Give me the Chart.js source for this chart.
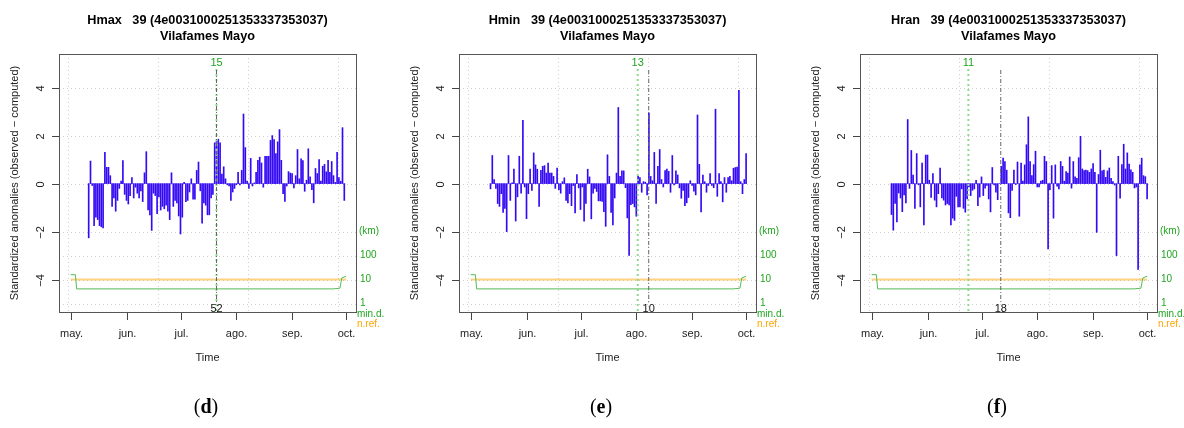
<!DOCTYPE html>
<html><head><meta charset="utf-8">
<script src="https://cdn.jsdelivr.net/npm/chart.js@4.4.1/dist/chart.umd.min.js"></script>
<style>
html,body{margin:0;padding:0;background:#fff;overflow:hidden;width:1184px;height:428px;}
canvas.p{position:absolute;top:0;}
.sub{position:absolute;top:395px;width:80px;height:28px;line-height:28px;text-align:center;font:20px "Liberation Serif","DejaVu Serif",serif;color:#000;}
</style></head>
<body>
<canvas class="p" id="c0" width="400" height="428" style="left:0px"></canvas>
<canvas class="p" id="c1" width="400" height="428" style="left:400px"></canvas>
<canvas class="p" id="c2" width="400" height="428" style="left:801px"></canvas>
<div class="sub" style="left:166px">(<b>d</b>)</div>
<div class="sub" style="left:561px">(<b>e</b>)</div>
<div class="sub" style="left:957px">(<b>f</b>)</div>
<script>
// ---- data ----
const monthLabels = ['may.', 'jun.', 'jul.', 'ago.', 'sep.', 'oct.'];
const monthDays = [0, 31, 61, 92, 123, 153];          // days since 1 May
const gridDays = [-1.7, 48.3, 98.3, 148.3];
const yTicks = [-4, -2, 0, 2, 4];
const yGrid = [-5, -4, -3, -2, 0, 2, 4];
const kmTicks = [1, 10, 100];

const hmaxStart = 10;
const hmaxValues = [
 -2.26, 0.94, -0.08, -1.75, -1.4, -1.5, -1.75, -1.8, -1.85, 1.3,
 0.68, 0.68, 0.33, -0.95, -0.6, -1.15, -0.7, -0.2, 0.1, 0.96,
 -0.45, -0.7, -0.85, -0.5, 0.25, -0.6, -0.15, -0.4, -0.6, -0.3,
 -0.75, 0.45, 1.33, -1.1, -1.3, -1.95, -0.4, -0.5, -1.25, -0.55,
 -1.1, -0.95, -1.05, -0.9, -1.15, -1.5, 0.45, -0.95, -0.7, -0.8,
 -1.35, -2.1, -1.4, 0.05, -0.75, -0.7, -0.35, 0.2, -0.65, -0.65,
 0.55, 0.9, -0.3, -1.65, -0.8, -0.9, -1.3, -1.3, -0.6, -0.45, 1.7,
 1.75, 1.85, 1.7, 0.4, 0.7, 0.2, -0.05, -0.1, -0.7, -0.35,
 -0.2, -0.05, 0.47, -0.05, 0.55, 2.9, 1.5, 0.1, -0.2, 1.05,
 -0.1, 0.03, 0.47, 0.97, 1.1, 0.86, -0.15, 1.14, 1.14, 1.14,
 1.8, 2.0, 1.83, 1.25, 1.74, 2.25, 0.97, -0.42, -0.74, -0.1,
 0.5, 0.44, 0.42, -0.18, 0.33, 1.42, 0.2, 1.03, 0.96, -0.32,
 0.14, 1.45, 0.28, -0.25, -0.8, 0.63, 0.42, 1.0, 0.1, 0.72,
 0.8, 0.49, 0.97, 0.47, 0.92, 0.33, 0.05, 1.3, 0.25, 0.1,
 2.33, -0.7
];

const hminStart = 11;
const hminValues = [
 -0.22, 1.17, 0.17, -0.2, -0.83, -0.95, -0.42, -1.2, -1.03, -2.0,
 1.17, -0.7, 0.03, 0.6, -1.56, -0.55, 1.14, -0.4, 2.64, -0.14,
 -1.46, -0.42, 0.6, -0.28, 1.28, 0.78, 0.6, -0.95, 0.55, 0.72,
 0.75, 0.44, 0.86, 0.44, 0.44, 0.3, -0.2, 0.65, -0.25, -0.4,
 0.08, 0.24, -0.7, -0.8, -0.42, -0.92, -0.08, -1.22, 0.38, -0.18,
 -1.08, -0.14, -1.57, -0.83, 0.6, 0.28, -1.47, -0.4, -0.2, -0.33,
 -0.72, -0.72, -0.74, -1.17, -1.78, 1.2, 0.3, -1.2, -1.72, -0.6,
 0.44, 3.17,
 0.3, 0.53, 0.53, -0.17, -1.43, -2.99, -0.88, -0.83, -0.97, -1.36, 0.3,
 0.25, -0.36, 0.08, 0.06, -0.47, 2.94, 0.3, 0.12, 1.3, -0.83,
 0.72, 1.42, 0.17, -0.14, 0.54, 0.6, 0.51, -0.36, 1.17, -0.06,
 0.53, 0.36, -0.18, -0.61, -0.28, -0.92, -0.8, -0.58, 0.12, -0.08,
 -0.32, -0.47, 2.86, 0.8, -1.18, 0.36, 0.08, -0.36, -0.08, 0.42,
 -0.08, -0.17, 3.1, -0.53, 0.42, 0.08, -0.76, 0.25, -0.36, 0.25,
 0.3, 0.12, 0.64, 0.67, 0.69, 3.89, 0.08, -0.42, 0.17, 1.25
];

const hranStart = 11;
const hranValues = [
 -1.29, -1.94, -0.83, -1.6, -0.39, -0.6, -1.17, -0.47, -0.8, 2.67,
 -0.2, 1.38, 0.36, -1.03, 1.25, -0.05, -0.97, 0.86, -1.72, 1.19,
 1.19, 0.14, -0.58, 0.42, -0.69, -0.97, -0.42, 0.65, -0.6, -0.69,
 -0.89, -0.83, -0.89, -1.72, -1.44, -1.53, -0.53, -0.97, -0.97, -0.22,
 -1.03, -1.19, -0.64, -0.14, -0.5, -0.28, -0.22, 0.14, -0.92, -0.56,
 0.28, -0.5, -0.19, -0.08, -0.64, -1.18, 0.67, -0.05, -0.36, -0.67,
 0.0, 0.72, 1.06, 0.92, 0.56, -1.22, -1.42, -0.28, 0.56, -0.04,
 0.9,
 -1.36, 0.86, 0.1, 0.78, 1.62, 2.78, 0.92, 0.33, 0.79, 1.35,
 -0.14, -0.14, 0.1, 0.14, 1.14, 0.92, -2.72, -0.25, 0.75, -1.44,
 0.78, -0.11, -0.22, 0.92, 0.72, 0.1, 0.5, 0.44, 1.11, -0.19,
 0.92, 0.28, 0.22, 1.08, 1.97, 0.61, 0.54, 0.56, 0.54, 0.47,
 0.61, 0.83, 0.47, -2.03, 0.38, 1.39, 0.53, 0.56, 0.26, 0.53,
 0.65, 0.22, 0.08, -0.06, -3.0, 1.14, -0.61, 0.79, 1.64, 0.61,
 1.28, 0.81, 0.57, 0.47, -0.18, -0.14, -3.58, 0.78, 1.06, 0.33,
 0.29, -0.64
];

// minimum distance to references (km) and number of references
const minDistDays = [0, 2.6, 3.3, 145.8, 149.6, 150.6, 153];
const minDistKm = [16, 16, 4.1, 4.1, 4.4, 11.7, 13.8];
const nRefDays = [0, 153];
const nRefCount = [10, 10];

const panelNames = ['Hmax', 'Hmin', 'Hran'];
const stationCode = '39 (4e0031000251353337353037)';
const stationName = 'Vilafames Mayo';
const greenDays = [81, 92.8, 53.7];
const greenLabels = ['15', '13', '11'];
const grayDays = [81, 98.9, 71.7];
const grayLabels = ['52', '10', '18'];

// ---- drawing ----
const kmToY = km => -5 + Math.log10(km);
const FONT = '"Liberation Sans", Arial, Helvetica, sans-serif';
const GREEN = '#1fa51f';
const ORANGE = '#ffa500';

function makeDecor(idx) {
  return {
    id: 'decor' + idx,
    beforeDatasetsDraw(chart) {
      const {ctx, chartArea: a, scales: {x, y}} = chart;
      ctx.save();
      ctx.strokeStyle = '#cfcfcf';
      ctx.lineWidth = 1;
      ctx.setLineDash([1, 3]);
      gridDays.forEach(d => {
        const px = Math.round(x.getPixelForValue(d)) + 0.5;
        ctx.beginPath(); ctx.moveTo(px, a.top); ctx.lineTo(px, a.bottom); ctx.stroke();
      });
      yGrid.forEach(v => {
        const py = Math.round(y.getPixelForValue(v)) + 0.5;
        ctx.beginPath(); ctx.moveTo(a.left, py); ctx.lineTo(a.right, py); ctx.stroke();
      });
      ctx.restore();
    },
    afterDatasetsDraw(chart) {
      const {ctx, chartArea: a, scales: {x, y}} = chart;
      ctx.save();
      // marker lines
      const gx = x.getPixelForValue(greenDays[idx]);
      ctx.strokeStyle = '#8fd88f'; ctx.lineWidth = 2; ctx.setLineDash([2, 3]);
      ctx.beginPath(); ctx.moveTo(gx, a.top + 15); ctx.lineTo(gx, a.bottom); ctx.stroke();
      const kx = x.getPixelForValue(grayDays[idx]);
      ctx.strokeStyle = '#666'; ctx.lineWidth = 1; ctx.setLineDash([4, 2, 1, 2]);
      ctx.beginPath(); ctx.moveTo(kx, a.top + 16); ctx.lineTo(kx, a.bottom - 10); ctx.stroke();
      ctx.setLineDash([]);
      ctx.font = '11px ' + FONT; ctx.textAlign = 'center'; ctx.textBaseline = 'middle';
      ctx.fillStyle = GREEN; ctx.fillText(greenLabels[idx], gx, a.top + 9);
      ctx.fillStyle = '#111'; ctx.fillText(grayLabels[idx], kx, a.bottom - 3);
      // box
      ctx.strokeStyle = '#555'; ctx.lineWidth = 1;
      ctx.strokeRect(Math.round(a.left) + 0.5, Math.round(a.top) + 0.5, Math.round(a.right - a.left), Math.round(a.bottom - a.top));
      // y ticks
      ctx.strokeStyle = '#444';
      ctx.fillStyle = '#222';
      yTicks.forEach(v => {
        const py = Math.round(y.getPixelForValue(v)) + 0.5;
        ctx.beginPath(); ctx.moveTo(a.left - 7, py); ctx.lineTo(a.left, py); ctx.stroke();
        ctx.save(); ctx.translate(a.left - 18, py); ctx.rotate(-Math.PI / 2);
        ctx.textAlign = 'center'; ctx.textBaseline = 'middle';
        ctx.fillText(v < 0 ? '\u2212' + Math.abs(v) : String(v), 0, 0);
        ctx.restore();
      });
      // x ticks
      monthDays.forEach((d, i) => {
        const px = Math.round(x.getPixelForValue(d)) + 0.5;
        ctx.beginPath(); ctx.moveTo(px, a.bottom + 1); ctx.lineTo(px, a.bottom + 8); ctx.stroke();
        ctx.fillText(monthLabels[i], px, a.bottom + 22);
      });
      const cx = (a.left + a.right) / 2;
      ctx.fillText('Time', cx, a.bottom + 46);
      // y title
      ctx.save(); ctx.translate(15, (a.top + a.bottom) / 2); ctx.rotate(-Math.PI / 2);
      ctx.fillText('Standardized anomalies (observed \u2212 computed)', 0, 0);
      ctx.restore();
      // right labels
      ctx.textAlign = 'left'; ctx.fillStyle = GREEN; ctx.font = '10px ' + FONT;
      ctx.fillText('(km)', a.right + 3, y.getPixelForValue(-2));
      kmTicks.forEach(k => ctx.fillText(String(k), a.right + 4, y.getPixelForValue(kmToY(k))));
      ctx.fillText('min.d.', a.right + 1, a.bottom + 2);
      ctx.fillStyle = ORANGE;
      ctx.fillText('n.ref.', a.right + 1, a.bottom + 12);
      // title
      ctx.fillStyle = '#000'; ctx.textAlign = 'center';
      ctx.font = 'bold 12.7px ' + FONT;
      ctx.fillText(panelNames[idx] + '   ' + stationCode, cx, 20);
      ctx.fillText(stationName, cx, 36);
      ctx.restore();
    }
  };
}

const seriesList = [[hmaxStart, hmaxValues], [hminStart, hminValues], [hranStart, hranValues]];

seriesList.forEach(([start, vals], idx) => {
  const ctx = document.getElementById('c' + idx).getContext('2d');
  new Chart(ctx, {
    type: 'bar',
    data: {
      datasets: [
        {
          type: 'line',
          data: nRefDays.map((d, i) => ({x: d, y: kmToY(nRefCount[i])})),
          borderColor: 'rgba(255,165,0,0.5)', borderWidth: 2, pointRadius: 0, tension: 0, order: 3
        },
        {
          type: 'line',
          data: minDistDays.map((d, i) => ({x: d, y: kmToY(minDistKm[i])})),
          borderColor: '#55bb55', borderWidth: 1, pointRadius: 0, tension: 0, order: 2
        },
        {
          type: 'bar',
          data: vals.map((v, i) => ({x: start + i, y: v})),
          backgroundColor: 'rgb(52,10,245)', borderWidth: 0, barThickness: 1.0, grouped: false, order: 1
        }
      ]
    },
    options: {
      responsive: false, animation: false, devicePixelRatio: 1,
      layout: {padding: {left: 59, top: 54, right: 44, bottom: 116}},
      plugins: {legend: {display: false}, tooltip: {enabled: false}, title: {display: false}},
      scales: {
        x: {type: 'linear', min: -6.5, max: 158.5, display: false, offset: false},
        y: {type: 'linear', min: -5.35, max: 5.4, display: false}
      }
    },
    plugins: [makeDecor(idx)]
  });
});
</script>
</body></html>
